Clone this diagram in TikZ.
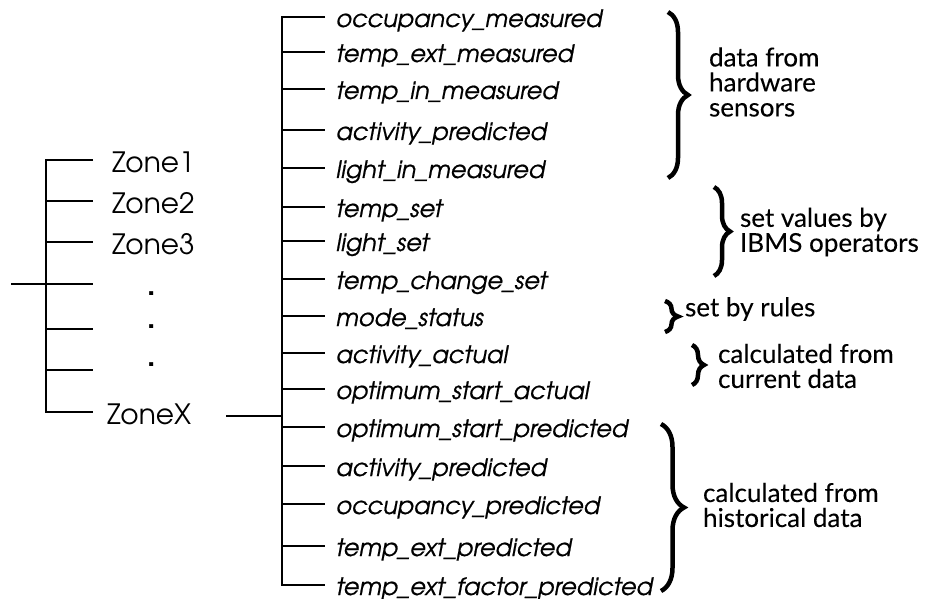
\documentclass[tikz,border=0pt]{standalone}
\usepackage{fontspec}
\setmainfont{texgyreadventor}[Extension=.otf, UprightFont=*-regular, ItalicFont=*-italic, BoldFont=*-bold, ItalicFeatures={FakeBold=0.7}]
\newfontfamily\notesfamily{Lato}[FakeBold=0.15]
\usepackage{tikz}
\usetikzlibrary{decorations.pathreplacing}

\tikzset{
	zone/.style = {
			anchor     = west,
			inner xsep = 18pt,
			inner ysep = 0pt,
			text height= 30pt,
			text depth = 6pt,
			font       = \fontsize{28}{30}\selectfont
		},
	zonedot/.style = {inner sep=0pt, font=\bfseries\fontsize{30}{30}\selectfont},
	field/.style = {
			anchor     = west,
			inner xsep = 10pt,
			inner ysep = 0pt,
			text height= 26pt,
			text depth = 6pt,
			font       = \itshape\fontsize{24}{26}\selectfont
		},
	note/.style = {
			anchor    = west,
			align     = left,
			inner sep = 0pt,
			font      = \notesfamily\fontsize{26}{25}\selectfont
		},
	curly/.style = {decorate, decoration={brace, amplitude=#1}, line width=4.5pt}
}

\begin{document}
\begin{tikzpicture}[x=1pt, y=-1pt, line width=2.1pt]
    \useasboundingbox (0,0) rectangle (940,599);

    % zones
    \node[zone] at (93,160) (zone1) {Zone1};
    \node[zone] at (93,201) (zone2) {Zone2};
    \node[zone] at (93,242) (zone3) {Zone3};
    \node[zone, inner xsep=13pt] at (93,412) (zonex) {ZoneX};
    \node[zonedot] at (152,294) (dot1) {.};
    \node[zonedot] at (152,327) (dot2) {.};
    \node[zonedot] at (152,365) (dot3) {.};

    \coordinate (ltop) at (46,160);
    \coordinate (root) at (11,284);
    \coordinate (br4) at (93,284);
    \coordinate (br5) at (93,329);
    \coordinate (br6) at (93,370);

    \draw (zone1.west) -- (ltop) |- (zonex.west);
    \draw (ltop) |- (zone2.west);
    \draw (ltop) |- (zone3.west);
    \draw (root) -- (br4);
    \draw (ltop) |- (br5);
    \draw (ltop) |- (br6);

    % fields of one zone
    \node[field] at (325,17) (occmeasured) {occupancy\_measured};
    \node[field] at (325,52) (extmeasured) {temp\_ext\_measured};
    \node[field] at (325,89) (inmeasured) {temp\_in\_measured};
    \node[field] at (325,130) (actpredicted) {activity\_predicted};
    \node[field] at (325,168) (lightmeasured) {light\_in\_measured};
    \node[field] at (325,207) (tempset) {temp\_set};
    \node[field] at (325,241) (lightset) {light\_set};
    \node[field] at (325,279) (changeset) {temp\_change\_set};
    \node[field] at (325,316) (mode) {mode\_status};
    \node[field] at (325,353) (actactual) {activity\_actual};
    \node[field] at (325,389) (optactual) {optimum\_start\_actual};
    \node[field] at (325,427) (optpredicted) {optimum\_start\_predicted};
    \node[field] at (325,466) (actpredicted2) {activity\_predicted};
    \node[field] at (325,504) (occpredicted) {occupancy\_predicted};
    \node[field] at (325,546) (extpredicted) {temp\_ext\_predicted};
    \node[field] at (325,585) (factorpredicted) {temp\_ext\_factor\_predicted};

    \coordinate (mtop) at (282,17);
    \coordinate (xout) at (226,416);

    \draw (occmeasured.west) -- (mtop) |- (factorpredicted.west);
    \draw (mtop) |- (extmeasured.west);
    \draw (mtop) |- (inmeasured.west);
    \draw (mtop) |- (actpredicted.west);
    \draw (mtop) |- (lightmeasured.west);
    \draw (mtop) |- (tempset.west);
    \draw (mtop) |- (lightset.west);
    \draw (mtop) |- (changeset.west);
    \draw (mtop) |- (mode.west);
    \draw (mtop) |- (actactual.west);
    \draw (mtop) |- (optactual.west);
    \draw (mtop) |- (optpredicted.west);
    \draw (mtop) |- (actpredicted2.west);
    \draw (mtop) |- (occpredicted.west);
    \draw (mtop) |- (extpredicted.west);
    \draw (xout) -- (mtop |- xout);

    % groups
    \draw[curly=20pt] (668,12) -- (668,178);
    \draw[curly=16pt] (714,187) -- (714,276);
    \draw[curly=13pt] (665,301) -- (665,332);
    \draw[curly=12pt] (692,345) -- (692,385);
    \draw[curly=23pt] (661,424) -- (661,591);

    \node[note] at (708,82) (sensors) {data from\\hardware\\sensors};
    \node[note] at (739,232) (operators) {set values by\\IBMS operators};
    \node[note] at (684,309) (rules) {set by rules};
    \node[note] at (717,366) (current) {calculated from\\current data};
    \node[note] at (702,505) (historical) {calculated from\\historical data};
  \end{tikzpicture}
\end{document}
